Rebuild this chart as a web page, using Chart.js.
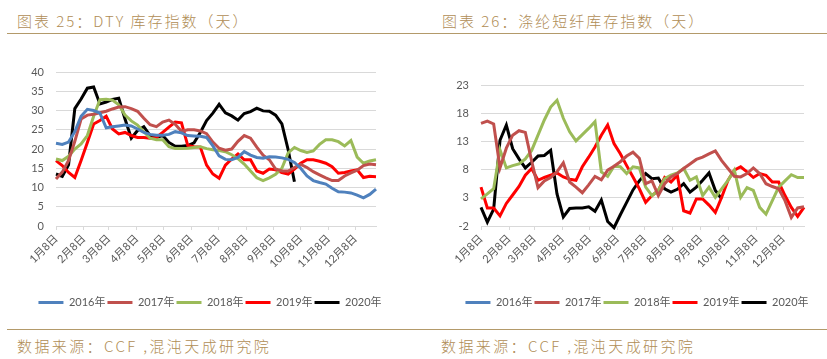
<!DOCTYPE html>
<html>
<head>
<meta charset="utf-8">
<script src="https://cdn.jsdelivr.net/npm/chart.js@4.4.1/dist/chart.umd.min.js"></script>
<style>
  body { margin: 0; width: 827px; height: 359px; background: #fff; position: relative; overflow: hidden;
         font-family: 'Noto Sans CJK SC', sans-serif; }
  .title { position: absolute; top: 11px; font-size: 15px; font-weight: 300; letter-spacing: 2px; color: #b08d55; line-height: 20px; white-space: nowrap; }
  .rule { position: absolute; left: 7px; width: 820px; height: 0; border-top: 1.5px solid #b39a6a; }
  .src { position: absolute; top: 336px; font-size: 15px; font-weight: 300; letter-spacing: 2.4px; color: #b08d55; line-height: 20px; white-space: nowrap; }
  canvas { position: absolute; }
</style>
</head>
<body>
<div class="title" style="left:17px">图表 25：DTY 库存指数（天）</div>
<div class="title" style="left:442px">图表 26：涤纶短纤库存指数（天）</div>
<div class="rule" style="top:33px"></div>
<div class="rule" style="top:329px"></div>
<div class="src" style="left:17px">数据来源：CCF ,混沌天成研究院</div>
<div class="src" style="left:441px">数据来源：CCF ,混沌天成研究院</div>

<canvas id="dty" width="413" height="278" style="left:0;top:40px"></canvas>
<canvas id="psf" width="416" height="278" style="left:413px;top:40px"></canvas>

<script>
// x axis: day of year, one point a week starting 1月8日
const tickDays = [8, 39, 67, 98, 128, 159, 189, 220, 251, 281, 312, 342];
const tickLabels = ['1月8日', '2月8日', '3月8日', '4月8日', '5月8日', '6月8日',
                    '7月8日', '8月8日', '9月8日', '10月8日', '11月8日', '12月8日'];
const years = ['2016年', '2017年', '2018年', '2019年', '2020年'];
const colors = ['#4f81bd', '#c0504d', '#9bbb59', '#ff0000', '#000000'];

// DTY 库存指数
const dty2016 = [21.5,21.2,21.8,24.5,28.5,30.3,30,29.3,25.5,25.8,26,26.2,26,25.2,24.3,23.8,23.6,23.6,23.8,24.5,
  24.2,23.5,23.4,23.3,23,20.8,18.2,17.3,17.2,17.8,19.3,18.4,17.8,17.6,18,17.9,17.7,17.3,16.5,15,
  13,11.8,11.3,10.9,9.8,8.9,8.8,8.6,8,7.3,8.2,9.6];
const dty2017 = [12.2,14,17,22,27.8,28.8,29,29.4,29.8,30.4,30.9,31,30.5,29.8,28,26.3,25.8,27,27.5,26.4,
  24.6,25,25,24.7,24,21.8,20.2,19.7,20,22,23.5,22.8,20.5,18.4,17.2,14.8,14.3,14.3,15.2,16,
  15.2,14.1,13.3,12.5,11.8,11.8,13,13.8,14.5,15.7,16.1,15.9];
const dty2018 = [17.4,17,18.1,20,21.3,23.5,28.5,32.8,32.9,32.7,31.5,28.8,27.3,26.2,24.5,22.8,22.4,22.4,20.6,20.1,
  20.1,20.2,20.4,20.6,20.1,19.8,19.6,19.3,18.5,17.5,16.1,14.3,12.5,11.8,12.5,13.4,15,19,20.4,19.6,
  19.1,19.5,21.2,22.4,22.4,21.9,20.8,22.2,17.9,16.3,16.9,17.2];
const dty2019 = [17,15.7,13.9,12.6,17,21.7,26.5,27.4,28.5,25.2,23.9,24.3,23.5,23,23,22.8,23,24.3,25.7,27,
  26.8,20.9,20.6,20.5,15.8,13.5,12.4,15.8,17.4,18.7,17.2,17.2,14.3,13.7,14.8,14.6,13.9,13.5,14.8,16.3,
  17.2,17.2,16.8,16.3,15.4,13.7,13.9,14.3,14.6,12.6,12.9,12.8];
const dty2020 = [13.5,12.9,15.9,30.5,33,35.8,36.1,31.7,32.2,32.9,33.2,27.8,22.8,24.8,25.8,23.5,23,23.5,21.7,20.7,
  20.7,20.9,21.6,24.3,27.4,29.3,31.6,29.4,28.6,27.5,29.2,29.7,30.6,29.9,29.8,28.8,26.5,19.8,11.5];

// 涤纶短纤库存指数 (no 2016 data)
const psf2016 = [];
const psf2017 = [16.2,16.6,16.1,8.3,11.8,14.1,14.9,14.6,9.5,4.8,6,6.6,7.6,9.2,5.8,4.9,3.9,5.3,6.8,6.2,
  7.9,8.6,9.4,10.4,11.1,10,5.5,6,3.4,5.5,6.7,7.3,8.2,9,9.8,10.2,10.8,11.3,9.6,8.2,
  6.8,6.7,7.3,8.3,7.3,5.5,5,4.6,2.5,-0.5,1.2,1.4];
const psf2018 = [2.8,3.7,4.6,11.5,8.3,8.7,9,9.9,11.4,14.1,16.8,19.1,20.3,17.1,14.7,13.1,14.2,15.3,16.5,7.6,
  6.8,8.6,8.5,7.3,8.5,8.3,4.9,3.4,4.3,6.4,7,7.4,8.2,6.1,6.7,3.4,4.9,3.1,4.6,6.1,
  7.9,3.1,4.8,4.3,1.3,0.1,2.5,4.9,6,7.1,6.6,6.6];
const psf2019 = [4.9,1.2,1.2,-0.2,2,3.5,5,7,8.2,6.1,6.6,7,7.4,6.7,6.3,6.1,8.5,10.2,12,14.1,
  15.9,12.6,10.8,8.7,6.7,4.6,2.2,3.4,4.3,6.6,5.8,7,0.7,0.3,2.8,2.8,1.7,0.4,3.1,6.1,
  7.9,8.5,7.6,6.6,7.3,7,5.8,5.8,3.4,1.3,-0.3,1.3];
const psf2020 = [1.3,-1.3,1,13.2,15.9,11.7,9.9,8.3,9.3,10.4,10.5,11.4,3.7,-0.4,1.1,1.2,1.2,1.4,0.6,2.6,
  -1.2,-2.3,0,2.2,4.4,6,7.3,6.4,6.5,4.6,4,4.5,5.5,4,4.9,6.1,7.4,4.3,2.8];

const tickFont = { family: "Lato, 'Noto Sans CJK SC', sans-serif", size: 11 };
const textColor = '#595959';
const gridColor = '#d9d9d9';

function toPoints(arr) {
  return arr.map((v, i) => ({ x: 8 + 7 * i, y: v }));
}

// yWidth: left axis box, spareWidth: empty right box so the legend sits where it should
function makeChart(id, series, yMin, yMax, pad, yWidth, spareWidth) {
  const ctx = document.getElementById(id).getContext('2d');
  return new Chart(ctx, {
    type: 'line',
    data: {
      datasets: series.map((s, i) => ({
        label: years[i],
        data: toPoints(s),
        borderColor: colors[i],
        backgroundColor: colors[i],
        borderWidth: 3,
        pointRadius: 0,
        tension: 0,
        fill: false,
        clip: 4
      }))
    },
    options: {
      responsive: false,
      animation: false,
      layout: { padding: pad },
      plugins: {
        tooltip: { enabled: false },
        legend: {
          position: 'bottom',
          labels: {
            boxWidth: 25,
            boxHeight: 3,
            padding: 2,
            color: textColor,
            font: tickFont,
            generateLabels: (chart) =>
              Chart.defaults.plugins.legend.labels.generateLabels(chart)
                .map(l => ({ ...l, lineWidth: 0, strokeStyle: 'rgba(0,0,0,0)' }))
          }
        }
      },
      scales: {
        x: {
          type: 'linear',
          min: 8,
          max: 365,
          afterBuildTicks: (scale) => { scale.ticks = tickDays.map(v => ({ value: v })); },
          afterFit: (scale) => { scale.height = 69; },
          ticks: {
            autoSkip: false,
            maxRotation: 45,
            minRotation: 45,
            padding: 2,
            color: textColor,
            font: tickFont,
            callback: (v) => tickLabels[tickDays.indexOf(v)]
          },
          grid: { drawOnChartArea: false, drawTicks: true, tickLength: 4, color: gridColor },
          border: { color: gridColor }
        },
        y: {
          min: yMin,
          max: yMax,
          afterFit: (scale) => { scale.width = yWidth; },
          ticks: { stepSize: 5, padding: 12, color: textColor, font: tickFont },
          grid: { color: gridColor, drawTicks: false },
          border: { display: false }
        },
        spare: {
          position: 'right',
          afterFit: (scale) => { scale.width = spareWidth; },
          ticks: { display: false },
          grid: { display: false },
          border: { display: false }
        }
      }
    }
  });
}

makeChart('dty', [dty2016, dty2017, dty2018, dty2019, dty2020], 0, 40,
  { top: 32, right: 13, left: 20, bottom: 0 }, 36, 24);
makeChart('psf', [psf2016, psf2017, psf2018, psf2019, psf2020], -2, 23,
  { top: 45, right: 0, left: 32, bottom: 0 }, 36, 25);
</script>
</body>
</html>
